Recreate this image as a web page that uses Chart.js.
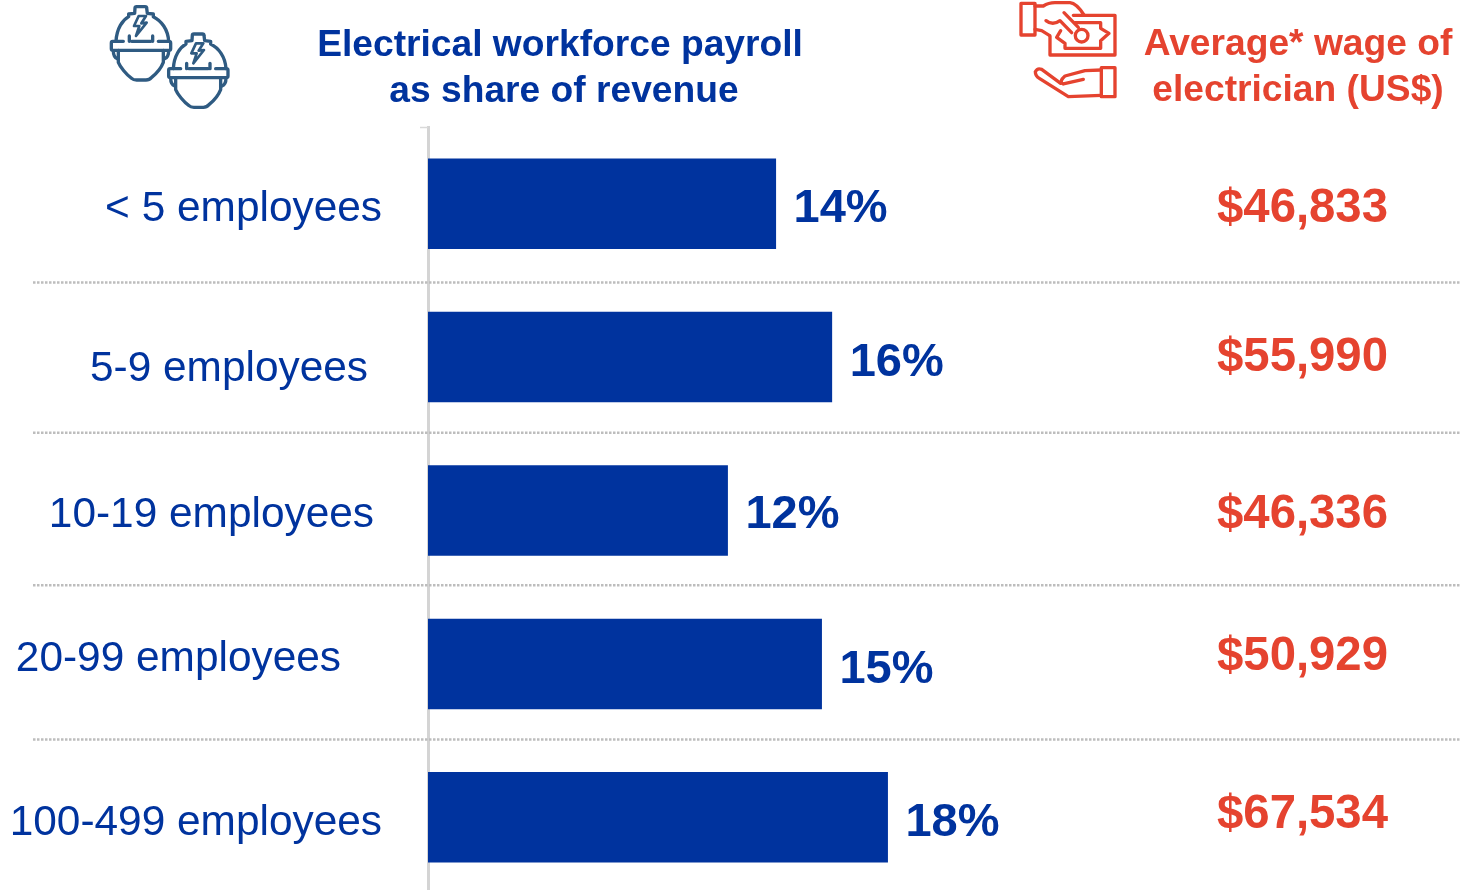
<!DOCTYPE html>
<html>
<head>
<meta charset="utf-8">
<style>
html,body{margin:0;padding:0;width:1460px;height:890px;overflow:hidden;background:#fff}
#wrap{position:relative;width:1460px;height:890px;overflow:hidden}
canvas{position:absolute;left:0;top:0}
svg{position:absolute;left:0;top:0;pointer-events:none}
</style>
<script src="https://cdn.jsdelivr.net/npm/chart.js@4"></script>
</head>
<body>
<div id="wrap">
<canvas id="c" width="1460" height="894"></canvas>
<svg width="1460" height="890" viewBox="0 0 1460 890">
  <defs>
    <g id="helmet" fill="none" stroke="#2f5b82" stroke-width="10" stroke-linecap="round" stroke-linejoin="round">
      <path d="M78 124 C80 85 98 60 116 50 L116 42 L134 40 L135 24 Q135 20 140 20 L165 20 Q170 20 170 24 L172 40 L190 42 L190 50 C214 62 234 88 236 124"/>
      <path d="M100 124 L68 124 Q64 124 64 129 L64 146 Q64 151 70 151 L236 151 Q242 151 242 146 L242 129 Q242 124 236 124 L205 124"/>
      <path d="M125 124 L182 124"/>
      <path d="M118 108 L118 124 M188 108 L188 124"/>
      <path d="M85 151 L85 187 C90 200 110 225 125 235 Q130 240 140 240 L168 240 Q178 240 185 232 C200 220 215 200 220 187 L220 151"/>
      <path d="M70 153 C70 165 72 172 82 176 M236 153 C236 165 234 172 224 176"/>
      <path d="M146 48 L132 78 L148 78 L138 108 L170 68 L154 70 L168 48 Z" stroke-width="8"/>
    </g>
  </defs>
  <g transform="translate(90 0) scale(0.3333)">
    <use href="#helmet"/>
    <use href="#helmet" x="172" y="82"/>
  </g>
  <g transform="translate(1010 0) scale(0.3333)" fill="none" stroke="#e5432f" stroke-width="10" stroke-linejoin="round" stroke-linecap="round">
    <rect x="33" y="10" width="42" height="95"/>
    <path d="M75 18 L100 18 Q115 8 135 8 L180 8 Q200 10 222 45"/>
    <path d="M75 88 L95 92 L118 106"/>
    <path d="M190 46 L315 46 L315 165 L120 165 L120 108"/>
    <path d="M195 68 L272 68 L272 85 L297 100 L272 122 L272 145 L165 145 L165 130 L140 112 L152 92"/>
    <circle cx="215" cy="107" r="19"/>
    <path d="M108 62 Q128 78 150 62 L185 98"/>
    <path d="M162 38 L205 82"/>
    <rect x="274" y="203" width="41" height="87"/>
    <path d="M274 210 L225 212 L165 228 Q145 245 160 252 L220 238"/>
    <path d="M152 250 L95 208 Q82 203 76 215 Q76 228 88 235 L175 290 L274 286"/>
  </g>
</svg>
</div>
<script>
const categories = ['< 5 employees', '5-9 employees', '10-19 employees', '20-99 employees', '100-499 employees'];
const shareOfRevenue = [13.66, 15.86, 11.77, 15.46, 18.05];
const averageWage = [46833, 55990, 46336, 50929, 67534];
const leftHeader = ['Electrical workforce payroll', 'as share of revenue'];
const rightHeader = ['Average* wage of', 'electrician (US$)'];

const BLUE = '#00339e', RED = '#e5432f', FONT = '"Liberation Sans", Arial, sans-serif';
const labelRight = [382, 368, 374, 341, 382];
const labelDy = [6, 12, 5, -5, 6];
const valueDy = [5, 6, 5, 6, 6];
const wageDy = [5, 1, 4, -7, -2];
const sepDy = [2, -1, -2, -1];

const annotate = {
  id: 'annotate',
  afterDatasetsDraw(chart) {
    const {ctx, scales: {x, y}, chartArea} = chart;
    ctx.save();
    ctx.textBaseline = 'middle';

    // separators and axis ticks
    ctx.strokeStyle = '#bdbdbd';
    ctx.lineWidth = 2.5;
    ctx.setLineDash([2.5, 1.5]);
    for (let i = 0; i < categories.length - 1; i++) {
      const py = (y.getPixelForTick(i) + y.getPixelForTick(i + 1)) / 2 + sepDy[i];
      ctx.beginPath(); ctx.moveTo(33, py); ctx.lineTo(1460, py); ctx.stroke();
    }
    ctx.setLineDash([]);
    ctx.strokeStyle = '#d9d9d9';
    ctx.lineWidth = 1.5;
    ctx.beginPath();
    ctx.moveTo(chartArea.left - 8, chartArea.top + 0.5);
    ctx.lineTo(chartArea.left, chartArea.top + 0.5);
    ctx.stroke();

    // category labels
    ctx.fillStyle = BLUE;
    ctx.font = '42.4px ' + FONT;
    ctx.textAlign = 'right';
    categories.forEach((c, i) => ctx.fillText(c, labelRight[i], y.getPixelForTick(i) + labelDy[i]));

    // value labels
    ctx.font = 'bold 47px ' + FONT;
    ctx.textAlign = 'left';
    shareOfRevenue.forEach((v, i) => ctx.fillText(Math.round(v) + '%', x.getPixelForValue(v) + 17.5, y.getPixelForTick(i) + valueDy[i]));

    // wages
    ctx.font = 'bold 47.3px ' + FONT;
    ctx.fillStyle = RED;
    ctx.textAlign = 'center';
    averageWage.forEach((w, i) => ctx.fillText('$' + w.toLocaleString('en-US'), 1302.5, y.getPixelForTick(i) + wageDy[i]));

    // headers
    ctx.font = 'bold 37.2px ' + FONT;
    ctx.fillStyle = BLUE;
    ctx.fillText(leftHeader[0], 560, 46);
    ctx.fillText(leftHeader[1], 564, 92);
    ctx.fillStyle = RED;
    ctx.fillText(rightHeader[0], 1298, 45);
    ctx.fillText(rightHeader[1], 1298, 91);
    ctx.restore();
  }
};

new Chart(document.getElementById('c'), {
  type: 'bar',
  data: {
    labels: categories,
    datasets: [{
      data: shareOfRevenue,
      backgroundColor: BLUE,
      borderWidth: 0,
      categoryPercentage: 1,
      barPercentage: 0.59
    }]
  },
  options: {
    indexAxis: 'y',
    responsive: false,
    animation: false,
    events: [],
    layout: {padding: {left: 420, top: 127, right: 0, bottom: 0}},
    plugins: {legend: {display: false}, title: {display: false}, tooltip: {enabled: false}},
    scales: {
      x: {display: false, min: 0, max: 40.5},
      y: {
        ticks: {display: false},
        grid: {display: false},
        border: {display: true, color: '#d4d4d4', width: 3}
      }
    }
  },
  plugins: [annotate]
});
</script>
</body>
</html>
